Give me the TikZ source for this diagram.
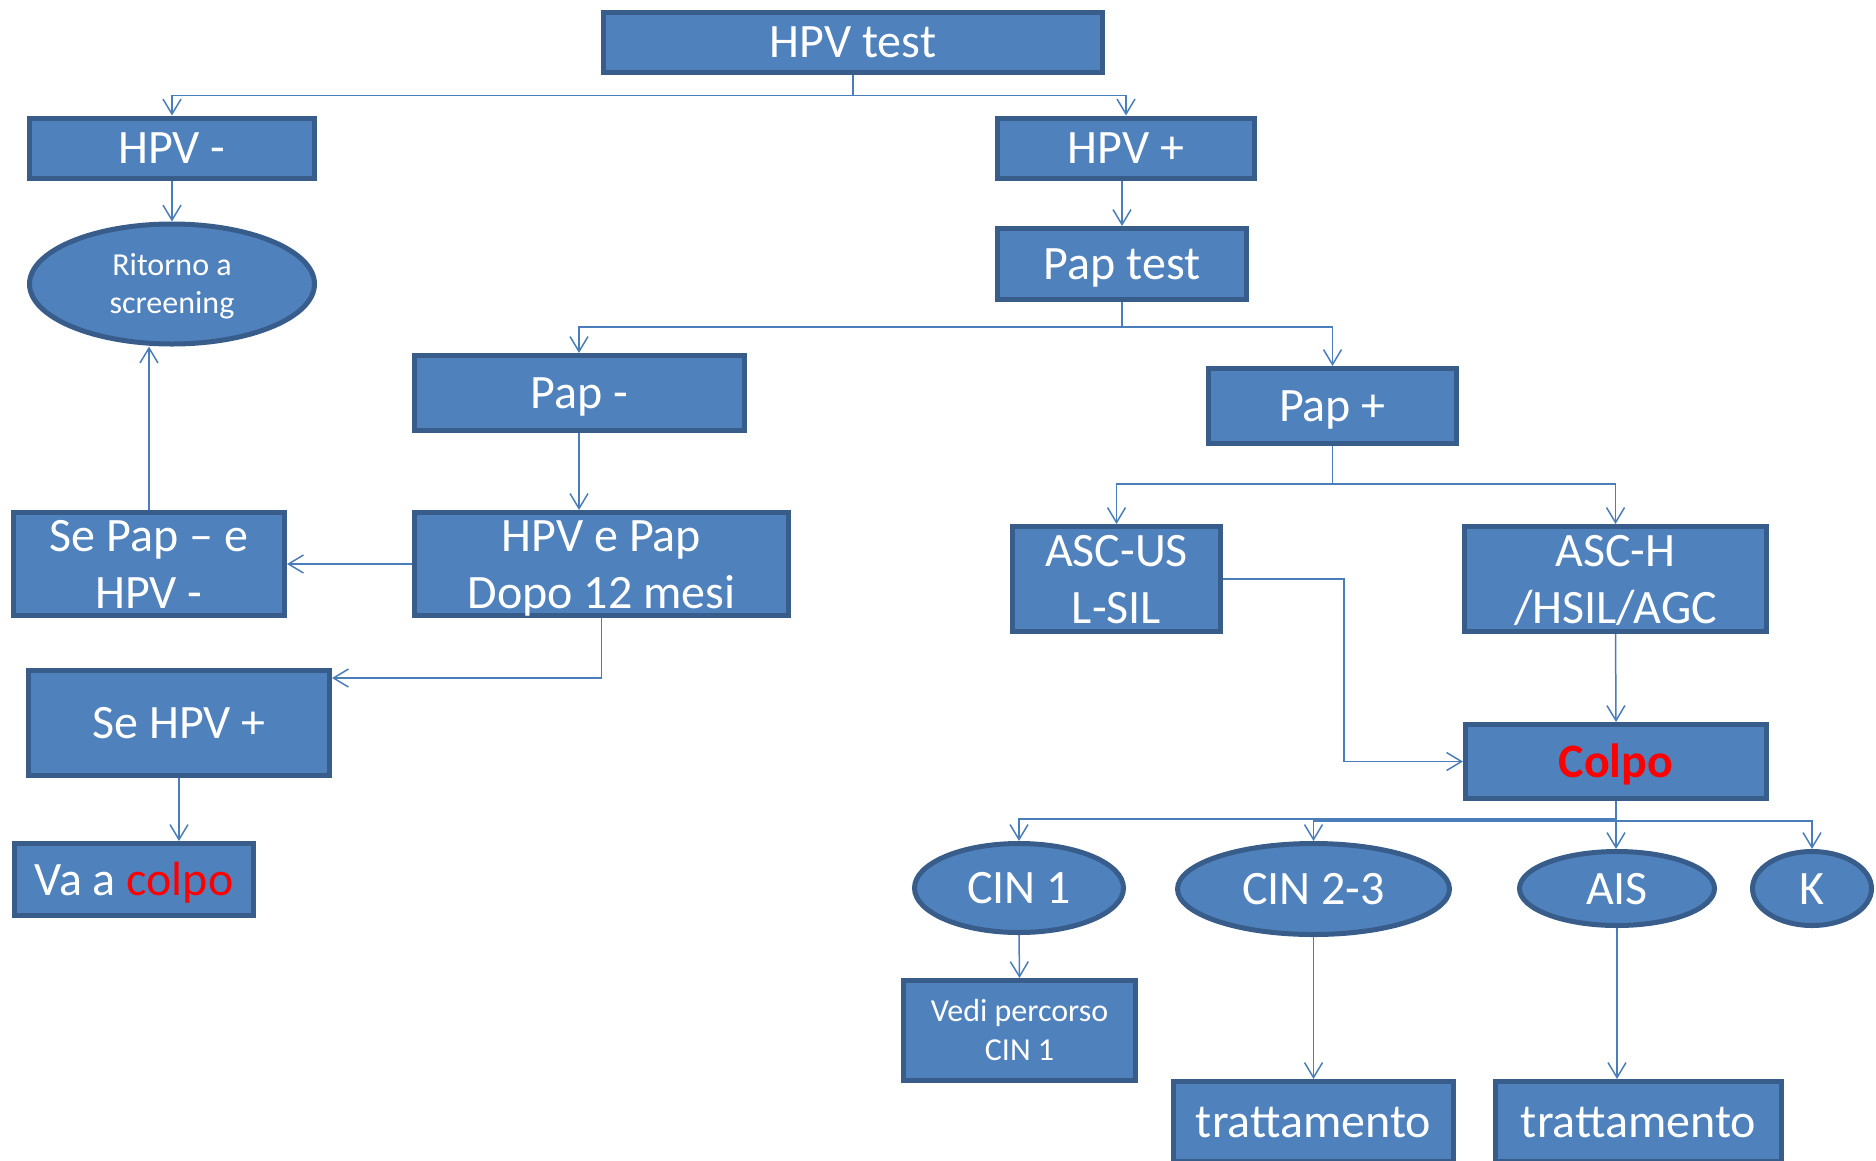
\documentclass[tikz,border=0pt]{standalone}
\usepackage{fontspec}
\setmainfont{Carlito}
\usetikzlibrary{arrows.meta, shapes.geometric}
\definecolor{boxfill}{HTML}{4F81BD}
\definecolor{boxline}{HTML}{385D8A}
\definecolor{wire}{HTML}{4A7EBB}
\newcommand{\bigtxt}{\fontsize{48}{57}\selectfont}
\newcommand{\smalltxt}{\fontsize{32}{38.5}\selectfont}
\newcommand{\linestrut}{\rule[-0.25em]{0pt}{1.16em}}

\begin{document}
\begin{tikzpicture}[x=1pt, y=-1pt,
        blk/.style={rectangle, draw=boxline, fill=boxfill, line width=5pt, text=white, inner xsep=0pt, inner ysep=-14pt, align=center, font=\bigtxt, execute at begin node=\linestrut, execute at end node=\linestrut},
        bubble/.style={blk, ellipse},
        flow/.style={-{Straight Barb[length=15pt, width=18pt]}, wire, line width=1.5pt}
    ]
    \useasboundingbox (0,0) rectangle (1876,1160);

    % --- primo livello ---
    \node[blk, minimum width=499pt, minimum height=60pt] (hpvtest) at (853,42) {HPV test};
    \node[blk, minimum width=285pt, minimum height=60pt] (hpvneg) at (172,148) {HPV -};
    \node[blk, minimum width=257pt, minimum height=60pt] (hpvpos) at (1126,148) {HPV +};
    \node[bubble, font=\smalltxt, minimum width=285pt, minimum height=120pt] (ritorno) at (172,284) {\linestrut Ritorno a\\screening};
    \node[blk, minimum width=249pt, minimum height=71pt] (paptest) at (1122,264) {Pap test};

    % --- ramo Pap - ---
    \node[blk, minimum width=330pt, minimum height=75pt] (papneg) at (579,393) {Pap -};
    \node[blk, minimum width=374pt, minimum height=103pt] (hpvepap) at (601.5,564) {\linestrut HPV e Pap\\Dopo 12 mesi};
    \node[blk, minimum width=271pt, minimum height=103pt] (sepap) at (149,564) {\linestrut Se Pap – e\\HPV -};
    \node[blk, minimum width=301pt, minimum height=105pt] (sehpv) at (179,723) {Se HPV +};
    \node[blk, minimum width=239pt, minimum height=72pt] (vaacolpo) at (134,879.5) {Va a \textcolor{red}{colpo}};

    % --- ramo Pap + ---
    \node[blk, minimum width=248pt, minimum height=75pt] (pappos) at (1332.5,406) {Pap +};
    \node[blk, minimum width=208pt, minimum height=105pt] (ascus) at (1116.5,579) {\linestrut ASC-US\\L-SIL};
    \node[blk, minimum width=302pt, minimum height=105pt] (asch) at (1615.5,579) {\linestrut ASC-H\\/HSIL/AGC};
    \node[blk, minimum width=301pt, minimum height=74pt] (colpo) at (1616,761.5) {\textcolor{red}{\bfseries Colpo}};

    % --- esiti colposcopia ---
    \node[bubble, minimum width=209pt, minimum height=89pt] (cin1) at (1019,888) {CIN 1};
    \node[bubble, minimum width=272pt, minimum height=91pt] (cin23) at (1313.5,889) {CIN 2-3};
    \node[bubble, minimum width=195pt, minimum height=74pt] (ais) at (1617,888.5) {AIS};
    \node[bubble, minimum width=119pt, minimum height=74pt] (k) at (1812,888.5) {K};
    \node[blk, font=\smalltxt, minimum width=232pt, minimum height=100pt] (vedi) at (1019.5,1030.5) {\linestrut Vedi percorso\\CIN 1};
    \node[blk, minimum width=280pt, minimum height=80pt] (tratt1) at (1313.5,1121.5) {trattamento};
    \node[blk, minimum width=286pt, minimum height=80pt] (tratt2) at (1638.5,1121.5) {trattamento};

    % --- frecce ---
    \draw[flow] (hpvtest.south) -- ++(0,21) -| (hpvneg.north);
    \draw[flow] (hpvtest.south) -- ++(0,21) -| (hpvpos.north);
    \draw[flow] (hpvneg.south) -- (ritorno.north);
    \draw[flow] (hpvpos.south -| paptest.north) -- (paptest.north);
    \draw[flow] (paptest.south) -- ++(0,25) -| (papneg.north);
    \draw[flow] (paptest.south) -- ++(0,25) -| (pappos.north);
    \draw[flow] (papneg.south) -- (papneg.south |- hpvepap.north);
    \draw[flow] (hpvepap.west) -- (sepap.east);
    \draw[flow] (sepap.north) -- (sepap.north |- ritorno.south);
    \draw[flow] (hpvepap.south) |- ([yshift=45pt]sehpv.east);
    \draw[flow] (sehpv.south) -- (sehpv.south |- vaacolpo.north);

    \draw[flow] (pappos.south) -- ++(0,38) -| (ascus.north);
    \draw[flow] (pappos.south) -- ++(0,38) -| (asch.north);
    \draw[flow] (ascus.east) -- ++(121,0) |- (colpo.west);
    \draw[flow] (asch.south) -- (colpo.north);

    \draw[flow] (colpo.south) -- ++(0,18) -| (cin1.north);
    \draw[flow] (colpo.south) -- ++(0,20) -| (cin23.north);
    \draw[flow] (colpo.south) -- ++(0,20) -| (k.north);
    \draw[flow] (colpo.south) -- (colpo.south |- ais.north);
    \draw[flow] (cin1.south) -- (vedi.north);
    \draw[flow] (cin23.south) -- (cin23.south |- tratt1.north);
    \draw[flow] (ais.south) -- (ais.south |- tratt2.north);
\end{tikzpicture}
\end{document}
